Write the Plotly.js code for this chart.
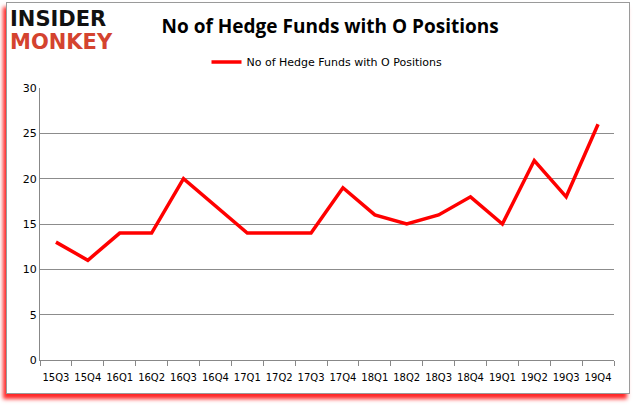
<!DOCTYPE html>
<html><head><meta charset="utf-8">
<script src="https://cdn.plot.ly/plotly-3.0.1.min.js"></script>
<style>
html,body{margin:0;padding:0;background:#fff;}
#frame{position:absolute;left:6px;top:2px;width:622px;height:390px;border:1px solid #9a9a9a;box-shadow:-3px 5px 4px rgba(255,0,0,0.85);background:#fff;}
#chart{position:absolute;left:0;top:0;width:635px;height:405px;}
</style>
</head><body>
<div id="frame"></div>
<div id="chart"></div>
<script>
var categories = ["15Q3","15Q4","16Q1","16Q2","16Q3","16Q4","17Q1","17Q2","17Q3","17Q4","18Q1","18Q2","18Q3","18Q4","19Q1","19Q2","19Q3","19Q4"];
var hedgeFunds = [13,11,14,14,20,17,14,14,14,19,16,15,16,18,15,22,18,26];
var seriesName = "No of Hedge Funds with O Positions";
var yTicks = [0,5,10,15,20,25,30];

Plotly.newPlot('chart', [{
  x: categories, y: hedgeFunds, type: 'scatter', mode: 'lines', name: seriesName,
  line: {color: '#ff0000', width: 3.5}
}], {
  width: 635, height: 405,
  paper_bgcolor: 'rgba(0,0,0,0)', plot_bgcolor: 'rgba(0,0,0,0)',
  margin: {l: 40, r: 21, t: 88, b: 45},
  font: {family: 'DejaVu Sans, Verdana, sans-serif', size: 11, color: '#000'},
  title: {text: '<b>No of Hedge Funds with O Positions</b>', x: 0.52, xanchor: 'center', y: 0.935, yanchor: 'middle',
    font: {family: 'Open Sans, DejaVu Sans, sans-serif', size: 19, color: '#000'}},
  showlegend: true,
  legend: {orientation: 'h', x: 0.5, xanchor: 'center', y: 1.096, yanchor: 'middle',
    font: {family: 'DejaVu Sans, sans-serif', size: 11, color: '#000'}},
  xaxis: {type: 'category', showgrid: false, showline: true, linecolor: '#888', linewidth: 1,
    ticks: 'outside', ticklen: 5, tickcolor: '#888', tickson: 'boundaries', tickangle: 0,
    ticklabelstandoff: 8,
    tickfont: {family: 'DejaVu Sans, sans-serif', size: 10}, range: [-0.5, 17.5]},
  yaxis: {range: [0, 30], tickvals: yTicks, showgrid: true, gridcolor: '#8c8c8c', gridwidth: 1,
    showline: true, linecolor: '#888', zeroline: false, ticks: '', ticklen: 0,
    tickfont: {family: 'DejaVu Sans, sans-serif', size: 11}},
  annotations: [
    {text: '<b>INSIDER</b>', xref: 'paper', yref: 'paper', x: -0.055, y: 1.254, xanchor: 'left', yanchor: 'middle',
      showarrow: false, font: {family: 'DejaVu Sans, sans-serif', size: 21, color: '#111'}},
    {text: '<b>MONKEY</b>', xref: 'paper', yref: 'paper', x: -0.055, y: 1.169, xanchor: 'left', yanchor: 'middle',
      showarrow: false, font: {family: 'DejaVu Sans, sans-serif', size: 21, color: '#d4432f'}}
  ]
}, {displayModeBar: false, staticPlot: true});
</script>
</body></html>
